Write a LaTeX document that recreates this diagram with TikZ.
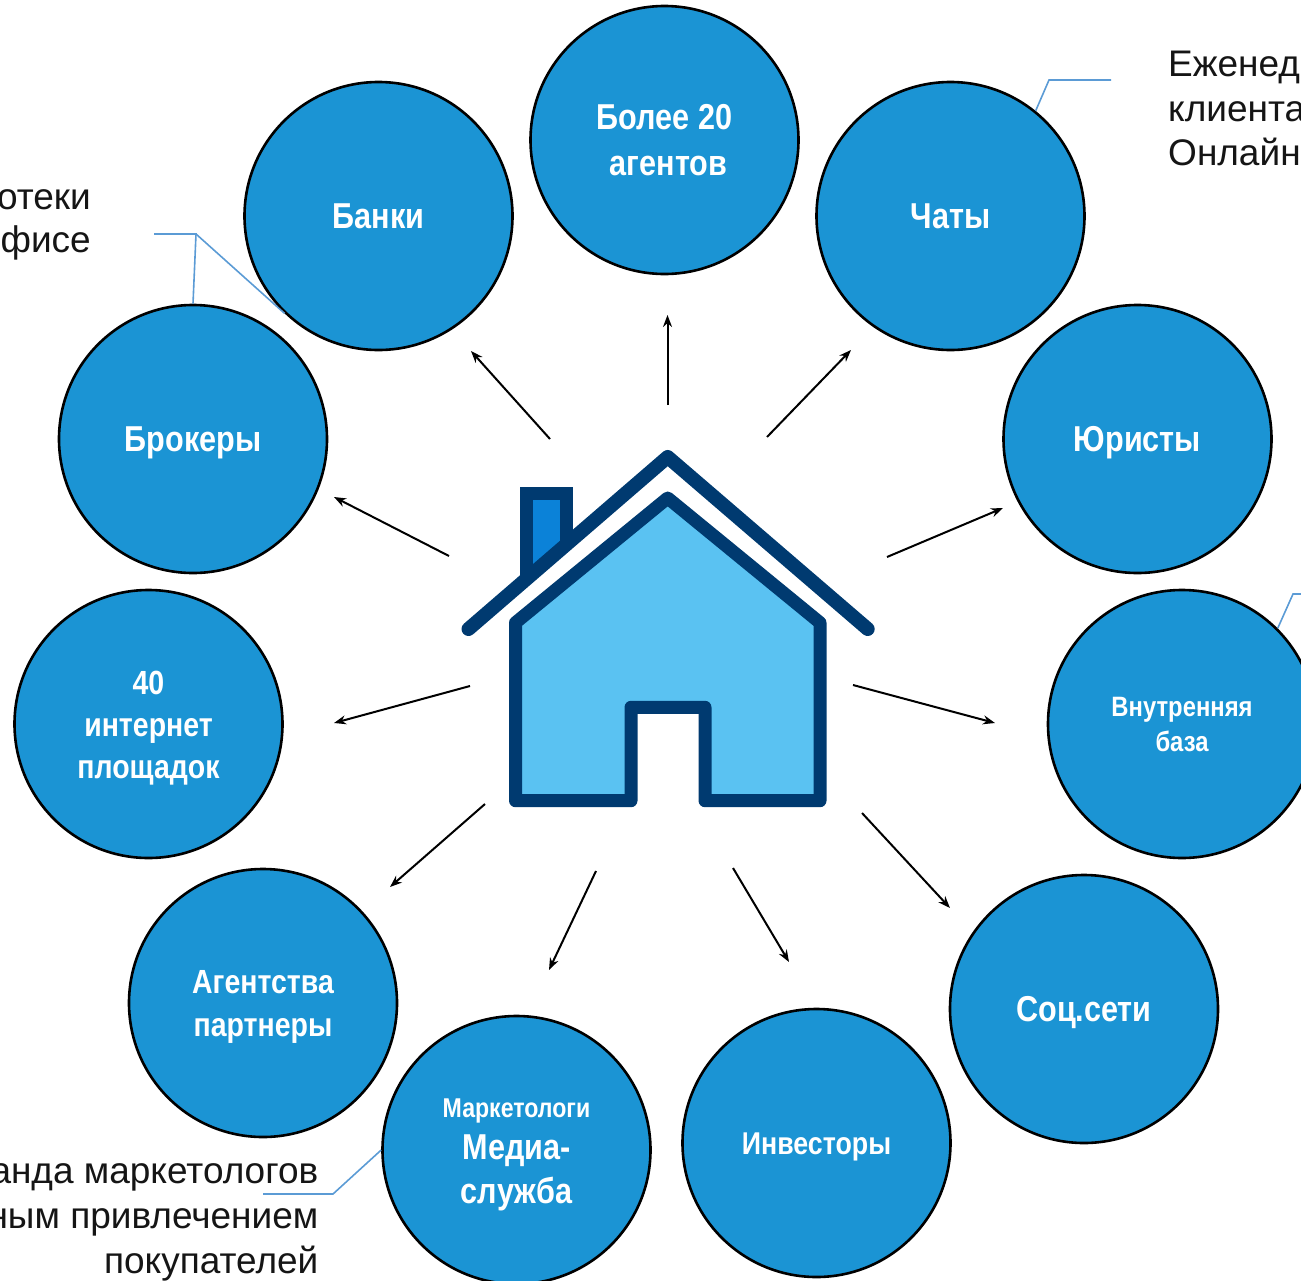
\documentclass[tikz,border=0pt]{standalone}
\usepackage{fontspec}
\setmainfont{Liberation Sans}
\newfontfamily\condf[FakeStretch=0.85]{Liberation Sans}
\usetikzlibrary{arrows.meta}
\definecolor{discblue}{HTML}{1B94D4}
\definecolor{bodyblue}{HTML}{5AC2F2}
\definecolor{chimblue}{HTML}{0B82D8}
\definecolor{darknavy}{HTML}{003A70}
\definecolor{leadblue}{HTML}{5B9BD5}
\definecolor{noteblack}{HTML}{151515}
\newcommand{\st}{\rule[-.25em]{0pt}{1.216em}}
\tikzset{
  disc/.style={circle,draw=black,fill=discblue,line width=2.6pt,minimum size=268pt,inner sep=0pt,
    text=white,align=center},
  lbl/.style n args={2}{font=\condf\bfseries\fontsize{#1}{#2}\selectfont},
  ray/.style={-{Stealth[length=12pt,width=9pt]},black,line width=2pt},
  leader/.style={leadblue,line width=1.6pt},
  note/.style={inner sep=0pt,text=noteblack,font=\fontsize{37}{37}\selectfont},
  housepen/.style={draw=darknavy,line join=round,line cap=round}
}
\begin{document}
\begin{tikzpicture}[x=1pt,y=-1pt]
\useasboundingbox (0,0) rectangle (1301,1280);
% discs
\node[disc,lbl={36}{46}] (agents) at (664.5,140) {\st Более 20\\\st\hspace*{8pt}агентов};
\node[disc,lbl={36}{42}] (banks) at (378.5,216) {\st Банки};
\node[disc,lbl={36}{42}] (chats) at (950.5,216) {\st Чаты};
\node[disc,lbl={36}{42}] (brokers) at (193,439) {\st Брокеры};
\node[disc,lbl={36}{42}] (lawyers) at (1137.5,439) {\st Юристы};
\node[disc,lbl={33.5}{42}] (portals) at (148.5,724) {\st 40\\интернет\\\st площадок};
\node[disc,lbl={28}{34}] (inner) at (1182,724) {\st Внутренняя\\\st база};
\node[disc,lbl={33.5}{43}] (partners) at (263,1003) {\st Агентства\\\st партнеры};
\node[disc,lbl={36}{44}] (media) at (516.5,1150) {\rule{0pt}{29pt}{\fontsize{27.2}{30}\selectfont Маркетологи}\\[-2pt]\st Медиа-\\\st служба};
\node[disc,lbl={31.5}{40}] (investors) at (816.5,1143) {\st Инвесторы};
\node[disc,lbl={36}{44}] (social) at (1084,1009) {\st Соц.сети};
% house
\draw[draw=darknavy,fill=chimblue,line width=12.5pt,line join=miter]
  (526.7,578) -- (526.7,493.3) -- (566.7,493.3) -- (566.7,545);
\draw[housepen,line width=14pt] (468.5,629) -- (667.7,457) -- (867.7,629);
\draw[housepen,line width=13pt,fill=bodyblue] (631,800.7) -- (515.5,800.7) -- (515.5,622.7) -- (667.7,498)
  -- (820,622.7) -- (820,800.7) -- (705,800.7) -- (705,707.3) -- (631,707.3) -- (631,800.7);
% rays
\coordinate (r1a) at (667.5,405); \coordinate (r1b) at (667.5,315);
\coordinate (r2a) at (767,437); \coordinate (r2b) at (851,350);
\coordinate (r3a) at (887,557); \coordinate (r3b) at (1003,508);
\coordinate (r4a) at (853,685); \coordinate (r4b) at (995,723);
\coordinate (r5a) at (862,813); \coordinate (r5b) at (950,908);
\coordinate (r6a) at (733,868); \coordinate (r6b) at (789,962);
\coordinate (r7a) at (596,871); \coordinate (r7b) at (549,970);
\coordinate (r8a) at (485,804); \coordinate (r8b) at (390,887);
\coordinate (r9a) at (470,686); \coordinate (r9b) at (334,723);
\coordinate (r10a) at (449,556); \coordinate (r10b) at (334,497);
\coordinate (r11a) at (550,439); \coordinate (r11b) at (471,351);
\foreach \i in {1,...,11} {\draw[ray] (r\i a) -- (r\i b);}
% notes
\node[note,anchor=base east] (n1a) at (91,209) {отеки};
\node[note,anchor=base east] (n1b) at (91,252) {фисе};
\node[note,anchor=base west] (n2a) at (1168,76) {Еженед};
\node[note,anchor=base west] (n2b) at (1168,121) {клиента};
\node[note,anchor=base west] (n2c) at (1168,165) {Онлайн};
\node[note,anchor=base east] (n3a) at (318.5,1183) {анда маркетологов};
\node[note,anchor=base east] (n3b) at (318.5,1228) {ным привлечением};
\node[note,anchor=base east] (n3c) at (318.5,1273) {покупателей};
% leaders
\coordinate (l1s) at (154,234); \coordinate (l1k) at (196,234);
\draw[leader] (l1s) -- (l1k) -- (brokers.north);
\draw[leader] (l1k) -- (banks.226);
\coordinate (l2s) at (1111,80); \coordinate (l2k) at (1049,80);
\draw[leader] (l2s) -- (l2k) -- (chats.51);
\coordinate (l3s) at (1301,594); \coordinate (l3k) at (1293,594);
\draw[leader] (l3s) -- (l3k) -- (inner.45);
\coordinate (l4s) at (263,1194); \coordinate (l4k) at (333,1194);
\draw[leader] (l4s) -- (l4k) -- (media.west);
\end{tikzpicture}
\end{document}
